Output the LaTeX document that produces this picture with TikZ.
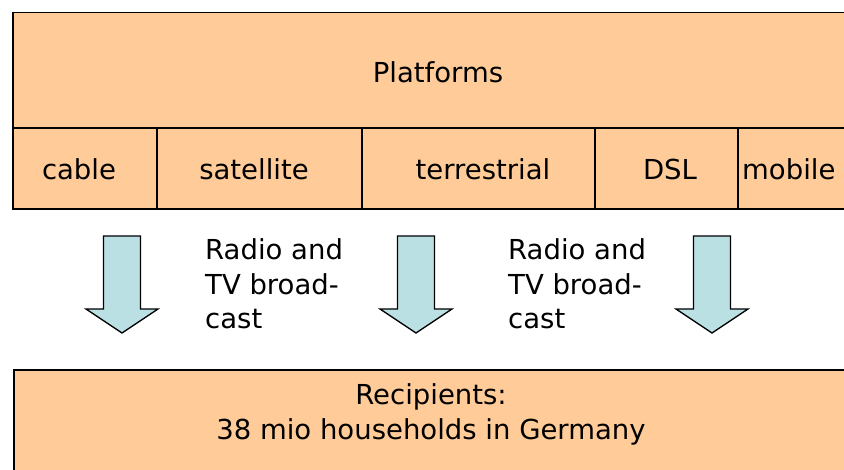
\documentclass[tikz,border=0pt]{standalone}
\usepackage{fontspec}
\setmainfont{DejaVu Sans}
\definecolor{boxfill}{RGB}{255,204,153}
\definecolor{arrowfill}{RGB}{187,224,227}
\begin{document}
\begin{tikzpicture}[x=1pt,y=-1pt,
  txt/.style={font=\fontsize{27.5}{34.5}\selectfont, inner sep=0pt, anchor=base, text=black},
  frame/.style={draw=black, line width=1.6pt, fill=boxfill},
  divider/.style={draw=black, line width=1.1pt},
  downarrow/.pic={
    \draw[draw=black, line width=1.3pt, line join=miter, fill=arrowfill]
      (-18.5,236) -- (18.5,236) -- (18.5,309) -- (36,309) -- (0,333)
      -- (-36,309) -- (-18.5,309) -- cycle;
  }]
\useasboundingbox (0,0) rectangle (844,470);
\clip (0,0) rectangle (844,470);

% platforms block (runs off to the right)
\draw[frame] (13,12.5) rectangle (870,209);
\draw[divider] (13,128) -- (870,128);
\foreach \x in {157,362,595,738}
  \draw[divider] (\x,128) -- (\x,209);

\node[txt] (platforms) at (438,83) {Platforms};
\node[txt] (cable)       at (79,180)  {cable};
\node[txt] (satellite)   at (254,180) {satellite};
\node[txt] (terrestrial) at (483,180) {terrestrial};
\node[txt] (dsl)         at (670,180) {DSL};
\node[txt, anchor=base west] (mobile) at (742,180) {mobile};

% downward arrows
\pic at (122,0) {downarrow};
\pic at (416,0) {downarrow};
\pic at (712,0) {downarrow};

% multi-line nodes: the base anchor sits on the last line
\node[txt, anchor=base west, align=left] (bc1) at (205,329) {Radio and\\TV broad-\\cast};
\node[txt, anchor=base west, align=left] (bc2) at (508,329) {Radio and\\TV broad-\\cast};

% recipients block
\draw[frame] (14,370) rectangle (870,500);
\node[txt, align=center, anchor=base] (recipients) at (431,439) {Recipients:\\38 mio households in Germany};
\end{tikzpicture}
\end{document}
